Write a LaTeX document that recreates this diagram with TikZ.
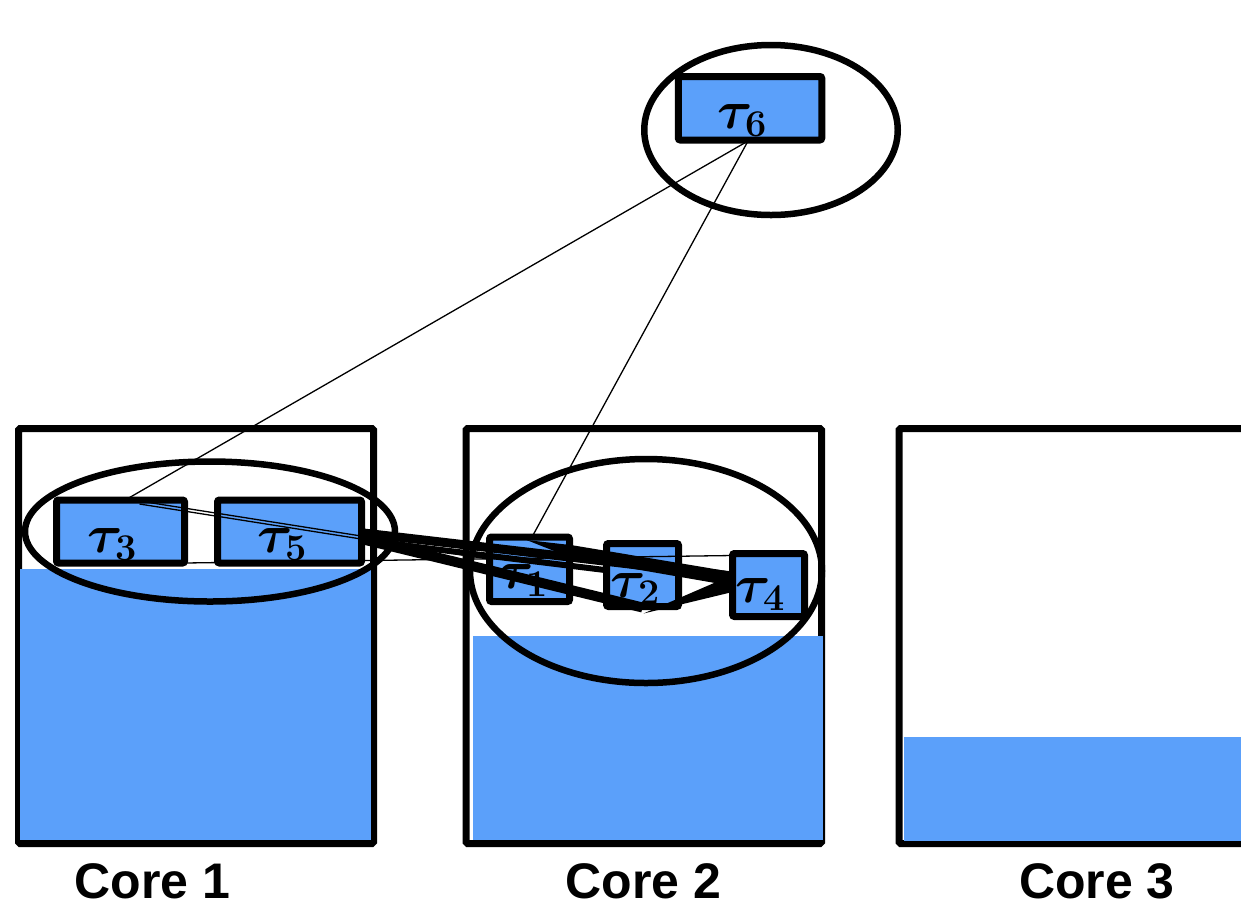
\RequirePackage{fix-cm}
\documentclass[tikz,border=0pt]{standalone}
\usepackage{fontspec}
\setsansfont{Liberation Sans}
\usetikzlibrary{calc,shapes.geometric}
\definecolor{loadblue}{RGB}{91,160,250}

\begin{document}
\begin{tikzpicture}[x=1pt,y=-1pt,
  corebox/.style={draw=black,line width=7pt,rounded corners=1.5pt,inner sep=0pt,outer sep=0pt},
  grouping/.style={ellipse,draw=black,line width=6.5pt,inner sep=0pt,outer sep=0pt},
  taskbox/.style={fill=loadblue,inner sep=0pt,outer sep=0pt,minimum height=63pt},
  taskedge/.style={draw=black,line width=7pt,rounded corners=2pt},
  tasklabel/.style={anchor=base,inner sep=0pt,font=\fontsize{54}{54}\selectfont\boldmath},
  corelabel/.style={anchor=base,inner sep=0pt,text depth=0pt,font=\sffamily\bfseries\fontsize{50}{50}\selectfont},
  thin link/.style={draw=black,line width=1.3pt},
  heavy link/.style={draw=black,line cap=butt}]

\useasboundingbox (0,0) rectangle (1241,906);
\clip (0,0) rectangle (1241,906);

% processor cores
\node[corebox,minimum width=355pt,minimum height=415pt] (core1) at (196,636) {};
\node[corebox,minimum width=355.5pt,minimum height=415pt] (core2) at (643.75,636) {};
\node[corebox,minimum width=362pt,minimum height=415pt] (core3) at (1080,636) {};

% utilisation levels
\fill[loadblue] (20,569) rectangle (371,840);
\fill[loadblue] (473,636) rectangle (823,840);
\fill[loadblue] (904,737) rectangle (1245,841);

% task groups
\node[grouping,minimum width=370pt,minimum height=140pt] (g35) at (210,531.5) {};
\node[grouping,minimum width=352pt,minimum height=224pt] (g124) at (646,571) {};
\node[grouping,minimum width=253.5pt,minimum height=170pt] (g6) at (771,130) {};

% tasks
\node[taskbox,minimum width=143.5pt,minimum height=63.5pt] (t6) at (750,108.25) {};
\node[taskbox,minimum width=128pt] (t3) at (120.5,531.5) {};
\node[taskbox,minimum width=144pt] (t5) at (289.5,531.5) {};
\node[taskbox,minimum width=80pt,minimum height=64.5pt] (t1) at (529.5,569.25) {};
\node[taskbox,minimum width=72pt] (t2) at (642.5,575) {};
\node[taskbox,minimum width=72pt] (t4) at (768.5,585) {};

\node[tasklabel] (l6) at (742,128) {$\tau_6$};
\node[tasklabel] (l3) at (112,552) {$\tau_3$};
\node[tasklabel] (l5) at (282,552) {$\tau_5$};
\node[tasklabel] (l1) at (523,588) {$\tau_1$};
\node[tasklabel] (l2) at (635,597) {$\tau_2$};
\node[tasklabel] (l4) at (760,602) {$\tau_4$};

\foreach \t in {t6,t3,t5,t1,t2,t4}
  \draw[taskedge] (\t.south west) rectangle (\t.north east);

% light dependencies
\draw[thin link] ($(t6.south)+(-2,1)$) -- ($(t3.north)+(6.5,-1)$);
\draw[thin link] ($(t6.south)+(-2,1)$) -- ($(t1.north)+(2.5,0)$);
\draw[thin link] ($(t3.north east)+(-45,1)$) -- ($(t1.west)+(0,-13)$);
\draw[thin link] ($(t3.north east)+(-45,4)$) -- ($(t1.west)+(0,-10)$);
\draw[thin link] (t3.south east) -- ($(t4.north west)+(0,2)$);

% heavy dependencies
\draw[heavy link,line width=9pt] ($(t5.east)+(2,1.5)$) -- ($(t4.west)+(0,-9)$);
\draw[heavy link,line width=6pt] ($(t5.east)+(2,9)$) -- ($(t2.west)+(-1.5,-5)$);
\draw[heavy link,line width=10pt] ($(t5.east)+(2,8)$) -- ($(t2.south)+(0,1)$);
\fill[black] ($(t1.north)+(-3,3)$) -- ($(t1.east)+(3,-24)$) -- ($(t4.west)+(0,-13)$)
  -- ($(t4.west)+(0,1)$) -- ($(t1.east)+(3,-11)$) -- cycle;
\fill[black] ($(t2.south)+(1,7)$) -- ($(t4.west)+(0,-10)$) -- ($(t4.west)+(0,7)$) -- cycle;

% core names
\node[corelabel] (n1) at (152.5,898) {Core 1};
\node[corelabel] (n2) at (643.5,898) {Core 2};
\node[corelabel] (n3) at (1097,898) {Core 3};
\end{tikzpicture}
\end{document}
